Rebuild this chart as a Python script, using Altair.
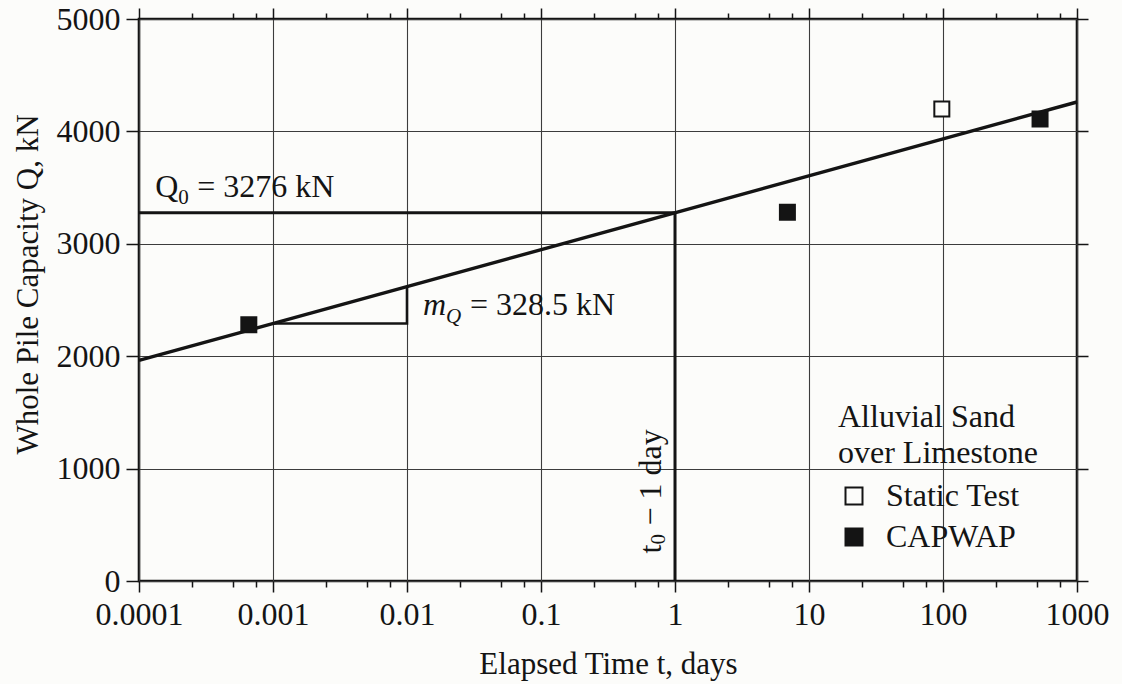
import math
import altair as alt
import pandas as pd

# ---- set-up parameters and readings ---------------------------------------
Q0 = 3276.0          # capacity at t0, kN
MQ = 328.5           # gain per log cycle of time, kN
T0 = 1.0             # reference time, days
T_RANGE = [0.0001, 1000]
Q_RANGE = [0, 5000]

decades = [0.0001, 0.001, 0.01, 0.1, 1, 10, 100, 1000]
minor_mult = [2.5, 5, 7.5]
q_ticks = [0, 1000, 2000, 3000, 4000, 5000]

capwap_t = [0.00066, 6.9, 530]
capwap_q = [2280, 3280, 4110]
static_t = [98]
static_q = [4200]

SERIF = "Liberation Serif"
INK = "#141414"
PAPER = "#fcfcfa"
FS = 32          # annotation and legend text
TICK_FS = 32     # tick labels
TITLE_FS = 31    # axis titles
SUB_FS = 21      # subscripts


def q_at(t):
    return Q0 + MQ * math.log10(t / T0)


minor_ticks = [d * m for d in decades[:-1] for m in minor_mult]

xs = alt.Scale(type="log", domain=T_RANGE, nice=False)
ys = alt.Scale(domain=Q_RANGE, nice=False, zero=True)

tick_axis = dict(domain=False, grid=False, labels=False, title=None,
                 tickColor=INK, tickWidth=1.5)

# ---- axes ------------------------------------------------------------------
x_main = alt.Axis(values=decades, format="~g", orient="bottom", tickSize=11,
                  tickWidth=1.5, tickColor=INK, labelFont=SERIF, labelFontSize=TICK_FS,
                  labelColor=INK, labelPadding=7, labelFlush=False, labelOverlap=False,
                  grid=True, gridColor="#3c3c3c", gridWidth=1.1, domain=False,
                  title="Elapsed Time t, days", titleFont=SERIF, titleFontSize=TITLE_FS,
                  titleFontWeight="normal", titleColor=INK, titlePadding=19)
y_main = alt.Axis(values=q_ticks, format="d", orient="left", tickSize=13,
                  tickWidth=1.5, tickColor=INK, labelFont=SERIF, labelFontSize=TICK_FS,
                  labelColor=INK, labelPadding=6, labelOverlap=False,
                  grid=True, gridColor="#3c3c3c", gridWidth=1.1, domain=False,
                  title="Whole Pile Capacity Q, kN", titleFont=SERIF, titleFontSize=TITLE_FS,
                  titleFontWeight="normal", titleColor=INK, titlePadding=12, titleY=265)
x_minor_bottom = alt.Axis(values=minor_ticks, orient="bottom", tickSize=6, **tick_axis)
x_major_top = alt.Axis(values=decades, orient="top", tickSize=11, **tick_axis)
x_minor_top = alt.Axis(values=minor_ticks, orient="top", tickSize=6, **tick_axis)
y_right = alt.Axis(values=q_ticks, orient="right", tickSize=11, **tick_axis)


def X(field="t", axis=None):
    return alt.X(f"{field}:Q", scale=xs, axis=axis)


def Y(field="q", axis=None):
    return alt.Y(f"{field}:Q", scale=ys, axis=axis)


# ---- lines -----------------------------------------------------------------
fit = pd.DataFrame({"t": T_RANGE, "q": [q_at(t) for t in T_RANGE]})
fit_line = alt.Chart(fit).mark_line(color=INK, strokeWidth=3.4).encode(
    x=X(axis=x_main), y=Y(axis=y_main))

q0_rule = alt.Chart(pd.DataFrame({"t": [T_RANGE[0]], "t2": [T0], "q": [Q0]})).mark_rule(
    color=INK, strokeWidth=3).encode(x=X(axis=x_minor_bottom), x2="t2:Q", y=Y())

t0_rule = alt.Chart(pd.DataFrame({"t": [T0], "q": [0], "q2": [Q0]})).mark_rule(
    color=INK, strokeWidth=3).encode(x=X(axis=x_major_top), y=Y(axis=y_right), y2="q2:Q")

tri_t = [0.001, 0.01, 0.01]
tri = pd.DataFrame({"t": tri_t, "q": [q_at(0.001), q_at(0.001), q_at(0.01)],
                    "k": [0, 1, 2]})
slope_tri = alt.Chart(tri).mark_line(color=INK, strokeWidth=2.6).encode(
    x=X(axis=x_minor_top), y=Y(), order="k:O")

# ---- measurements ----------------------------------------------------------
pts = pd.DataFrame({
    "t": static_t + capwap_t,
    "q": static_q + capwap_q,
    "series": ["Static Test"] * len(static_t) + ["CAPWAP"] * len(capwap_t),
})
legend = alt.Legend(
    title=["Alluvial Sand", "over Limestone"], orient="none", legendX=699, legendY=383,
    titleFont=SERIF, titleFontSize=FS, titleFontWeight="normal", titleColor=INK,
    titleLineHeight=36, titlePadding=10, titleAnchor="start", titleLimit=500,
    labelFont=SERIF, labelFontSize=FS, labelColor=INK, labelOffset=16, labelLimit=500,
    symbolType="square", symbolSize=289, symbolStrokeColor=INK, symbolStrokeWidth=2,
    rowPadding=9, padding=0)
points = alt.Chart(pts).mark_point(shape="square", filled=True, size=225, stroke=INK,
                                   strokeWidth=2, opacity=1).encode(
    x=X(), y=Y(),
    fill=alt.Fill("series:N", scale=alt.Scale(domain=["Static Test", "CAPWAP"],
                                              range=[PAPER, INK]), legend=legend))


# ---- annotations -----------------------------------------------------------
def label(t, q, text, dx=0, dy=0, size=FS, italic=False, angle=0):
    return alt.Chart(pd.DataFrame({"t": [t], "q": [q], "s": [text]})).mark_text(
        align="left", baseline="alphabetic", dx=dx, dy=dy, fontSize=size, font=SERIF,
        fontStyle="italic" if italic else "normal", angle=angle, color=INK).encode(
        x=X(), y=Y(), text="s:N")


notes = [
    label(0.000132, 3415, "Q"),
    label(0.000132, 3415, "0", dx=23, dy=7, size=SUB_FS),
    label(0.000132, 3415, "= 3276 kN", dx=42),
    label(0.01315, 2364, "m", italic=True),
    label(0.01315, 2364, "Q", dx=23, dy=8, size=SUB_FS, italic=True),
    label(0.01315, 2364, "= 328.5 kN", dx=47),
    label(0.787, 245, "t", angle=270),
    label(0.787, 245, "0", dx=9, dy=4, size=SUB_FS, angle=270),
    label(0.787, 245, "− 1 day", dx=28, angle=270),
]

chart = alt.layer(q0_rule, t0_rule, slope_tri, fit_line, points, *notes).resolve_axis(
    x="independent", y="independent").properties(
    width=938, height=562,
    padding={"left": 139, "top": 19, "right": 45, "bottom": 103},
    autosize=alt.AutoSizeParams(type="none"),
    background=PAPER,
).configure_view(stroke=INK, strokeWidth=2.6)

chart.save("out.html", embed_options={"renderer": "svg", "actions": False})
